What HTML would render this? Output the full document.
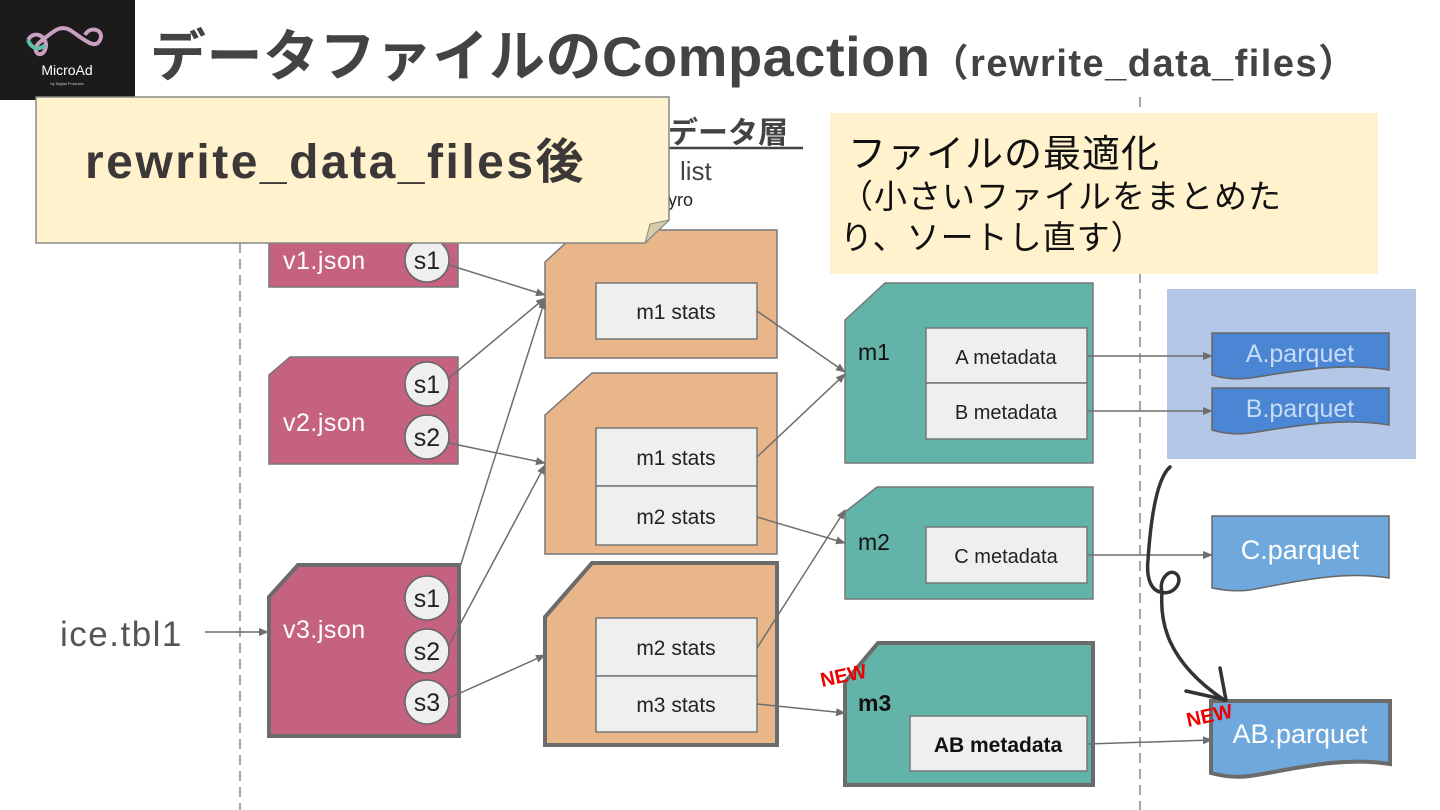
<!DOCTYPE html>
<html><head><meta charset="utf-8"><style>
html,body{margin:0;padding:0;background:#fff;}
svg{display:block;}
text{font-family:"Liberation Sans","Noto Sans CJK JP",sans-serif;}
</style></head><body>
<svg width="1440" height="810" viewBox="0 0 1440 810" xmlns="http://www.w3.org/2000/svg">
<defs>
<marker id="ah" markerWidth="10" markerHeight="10" refX="9" refY="5" orient="auto" markerUnits="userSpaceOnUse">
<path d="M0,1 L10,5 L0,9 Z" fill="#6e6e6e"/></marker>
</defs>
<!-- logo -->
<rect x="0" y="0" width="135" height="100" fill="#1c1a1a"/>
<path d="M28,40 C35,28 50,38 45,50 C40,60 30,50 40,42 C55,30 60,25 70,30 C85,40 95,50 100,40 C105,30 90,25 85,35" fill="none" stroke="#c9a0c0" stroke-width="4"/>
<path d="M28,40 C32,50 40,50 45,45" fill="none" stroke="#5fbfa8" stroke-width="4"/>
<text x="67" y="75" font-size="14" fill="#fff" text-anchor="middle">MicroAd</text>
<text x="67" y="85" font-size="4" fill="#ccc" text-anchor="middle">by Digital Products</text>
<!-- title -->
<text x="150" y="76" font-size="56" font-weight="bold" fill="#434343" letter-spacing="0.5">データファイルのCompaction<tspan font-size="38" letter-spacing="1.5">（rewrite_data_files）</tspan></text>
<!-- dashed lines -->
<line x1="240" y1="243" x2="240" y2="810" stroke="#888" stroke-width="1.5" stroke-dasharray="10,6"/>
<line x1="1140" y1="97" x2="1140" y2="810" stroke="#888" stroke-width="1.5" stroke-dasharray="10,6"/>
<!-- hidden layer labels -->
<text x="668" y="143" font-size="30" font-weight="bold" fill="#434343">データ層</text>
<line x1="668" y1="148" x2="803" y2="148" stroke="#434343" stroke-width="2.5"/>
<text x="680" y="180" font-size="26" fill="#434343">list</text>
<text x="668" y="206" font-size="18" fill="#222">yro</text>
<!-- v1 -->
<rect x="269" y="227" width="189" height="60" fill="#c5627f" stroke="#777" stroke-width="1.5"/>
<text x="283" y="269" font-size="25" fill="#fff" letter-spacing="0.5">v1.json</text>
<circle cx="427" cy="260" r="22" fill="#efefef" stroke="#666" stroke-width="1.5"/>
<text x="427" y="269" font-size="25" fill="#222" text-anchor="middle">s1</text>
<!-- v2 -->
<path d="M269,375 L290,357 L458,357 L458,464 L269,464 Z" fill="#c5627f" stroke="#777" stroke-width="1.5"/>
<text x="283" y="431" font-size="25" fill="#fff" letter-spacing="0.5">v2.json</text>
<circle cx="427" cy="384" r="22" fill="#efefef" stroke="#666" stroke-width="1.5"/>
<text x="427" y="393" font-size="25" fill="#222" text-anchor="middle">s1</text>
<circle cx="427" cy="437" r="22" fill="#efefef" stroke="#666" stroke-width="1.5"/>
<text x="427" y="446" font-size="25" fill="#222" text-anchor="middle">s2</text>
<!-- v3 -->
<path d="M269,597 L298,565 L459,565 L459,736 L269,736 Z" fill="#c5627f" stroke="#6b6b6b" stroke-width="4"/>
<text x="283" y="638" font-size="25" fill="#fff" letter-spacing="0.5">v3.json</text>
<circle cx="427" cy="598" r="22" fill="#efefef" stroke="#666" stroke-width="1.5"/>
<text x="427" y="607" font-size="25" fill="#222" text-anchor="middle">s1</text>
<circle cx="427" cy="651" r="22" fill="#efefef" stroke="#666" stroke-width="1.5"/>
<text x="427" y="660" font-size="25" fill="#222" text-anchor="middle">s2</text>
<circle cx="427" cy="702" r="22" fill="#efefef" stroke="#666" stroke-width="1.5"/>
<text x="427" y="711" font-size="25" fill="#222" text-anchor="middle">s3</text>
<text x="60" y="646" font-size="35" fill="#555" letter-spacing="1.5">ice.tbl1</text>
<line x1="205" y1="632" x2="268" y2="632" stroke="#6e6e6e" stroke-width="1.5" marker-end="url(#ah)"/>
<!-- manifest lists -->
<path d="M545,262 L580,230 L777,230 L777,358 L545,358 Z" fill="#e9b68a" stroke="#777" stroke-width="1.5"/>
<rect x="596" y="283" width="161" height="56" fill="#efefef" stroke="#777" stroke-width="1.5"/>
<text x="676" y="319" font-size="21" fill="#222" text-anchor="middle">m1 stats</text>
<path d="M545,415 L592,373 L777,373 L777,554 L545,554 Z" fill="#e9b68a" stroke="#777" stroke-width="1.5"/>
<rect x="596" y="428" width="161" height="58" fill="#efefef" stroke="#777" stroke-width="1.5"/>
<text x="676" y="465" font-size="21" fill="#222" text-anchor="middle">m1 stats</text>
<rect x="596" y="486" width="161" height="59" fill="#efefef" stroke="#777" stroke-width="1.5"/>
<text x="676" y="524" font-size="21" fill="#222" text-anchor="middle">m2 stats</text>
<path d="M545,617 L592,563 L777,563 L777,745 L545,745 Z" fill="#e9b68a" stroke="#6b6b6b" stroke-width="4"/>
<rect x="596" y="618" width="161" height="58" fill="#efefef" stroke="#777" stroke-width="1.5"/>
<text x="676" y="655" font-size="21" fill="#222" text-anchor="middle">m2 stats</text>
<rect x="596" y="676" width="161" height="56" fill="#efefef" stroke="#777" stroke-width="1.5"/>
<text x="676" y="712" font-size="21" fill="#222" text-anchor="middle">m3 stats</text>
<!-- manifests -->
<path d="M845,320 L885,283 L1093,283 L1093,463 L845,463 Z" fill="#62b3a8" stroke="#777" stroke-width="1.5"/>
<text x="858" y="360" font-size="23" fill="#111">m1</text>
<rect x="926" y="328" width="161" height="55" fill="#efefef" stroke="#777" stroke-width="1.5"/>
<text x="1006" y="364" font-size="20" fill="#222" text-anchor="middle">A metadata</text>
<rect x="926" y="383" width="161" height="56" fill="#efefef" stroke="#777" stroke-width="1.5"/>
<text x="1006" y="419" font-size="20" fill="#222" text-anchor="middle">B metadata</text>
<path d="M845,512 L877,487 L1093,487 L1093,599 L845,599 Z" fill="#62b3a8" stroke="#777" stroke-width="1.5"/>
<text x="858" y="550" font-size="23" fill="#111">m2</text>
<rect x="926" y="527" width="161" height="56" fill="#efefef" stroke="#777" stroke-width="1.5"/>
<text x="1006" y="563" font-size="20" fill="#222" text-anchor="middle">C metadata</text>
<path d="M845,682 L878,643 L1093,643 L1093,785 L845,785 Z" fill="#62b3a8" stroke="#6b6b6b" stroke-width="4"/>
<text x="858" y="711" font-size="23" font-weight="bold" fill="#111">m3</text>
<rect x="910" y="716" width="177" height="55" fill="#efefef" stroke="#777" stroke-width="1.5"/>
<text x="998" y="752" font-size="21" font-weight="bold" fill="#111" text-anchor="middle">AB metadata</text>
<!-- data files -->
<rect x="1167" y="289" width="249" height="170" fill="#b4c7e7"/>
<path d="M1212,333 L1389,333 L1389,370 C1340,362 1290,372 1250,378 C1235,380 1222,378 1212,375 Z" fill="#4a86d4" stroke="#666" stroke-width="1.5"/>
<text x="1300" y="362" font-size="25" fill="#c9dcf5" text-anchor="middle">A.parquet</text>
<path d="M1212,388 L1389,388 L1389,425 C1340,417 1290,427 1250,433 C1235,435 1222,433 1212,430 Z" fill="#4a86d4" stroke="#666" stroke-width="1.5"/>
<text x="1300" y="417" font-size="25" fill="#c9dcf5" text-anchor="middle">B.parquet</text>
<path d="M1212,516 L1389,516 L1389,578 C1340,570 1290,583 1250,590 C1235,592 1222,590 1212,588 Z" fill="#6fa8dc" stroke="#666" stroke-width="1.5"/>
<text x="1300" y="559" font-size="27" fill="#fff" text-anchor="middle">C.parquet</text>
<path d="M1211,701 L1390,701 L1390,764 C1340,756 1290,770 1250,776 C1235,778 1222,776 1211,773 Z" fill="#6fa8dc" stroke="#6b6b6b" stroke-width="4"/>
<text x="1300" y="743" font-size="27" fill="#fff" text-anchor="middle">AB.parquet</text>
<!-- NEW labels -->
<text x="822" y="687" font-size="20" font-weight="bold" fill="#e00" transform="rotate(-12 822 687)">NEW</text>
<text x="1188" y="727" font-size="20" font-weight="bold" fill="#e00" transform="rotate(-12 1188 727)">NEW</text>
<!-- connectors -->
<g stroke="#6e6e6e" stroke-width="1.5" fill="none" marker-end="url(#ah)">
<line x1="449" y1="265" x2="545" y2="295"/>
<line x1="449" y1="378" x2="545" y2="298"/>
<line x1="449" y1="443" x2="545" y2="463"/>
<line x1="460" y1="567" x2="545" y2="300"/>
<line x1="449" y1="645" x2="545" y2="465"/>
<line x1="449" y1="698" x2="545" y2="655"/>
<line x1="757" y1="311" x2="845" y2="372"/>
<line x1="757" y1="457" x2="845" y2="374"/>
<line x1="757" y1="517" x2="845" y2="543"/>
<line x1="757" y1="648" x2="845" y2="510"/>
<line x1="757" y1="704" x2="845" y2="713"/>
<line x1="1087" y1="356" x2="1212" y2="356"/>
<line x1="1087" y1="411" x2="1212" y2="411"/>
<line x1="1087" y1="555" x2="1212" y2="555"/>
<line x1="1087" y1="744" x2="1212" y2="740"/>
</g>
<!-- hand-drawn curve -->
<path d="M1170,467 C1155,480 1150,530 1148,560 C1146,580 1152,590 1160,592 C1172,596 1182,584 1178,576 C1172,566 1158,578 1162,592 C1160,620 1165,660 1224,700" fill="none" stroke="#333" stroke-width="3.5" stroke-linecap="round"/>
<path d="M1186,691 L1226,700 M1220,668 L1226,700" fill="none" stroke="#333" stroke-width="3.5" stroke-linecap="round"/>
<!-- right yellow box -->
<rect x="830" y="113" width="548" height="161" fill="#fff2cc"/>
<text x="848" y="167" font-size="38" fill="#111" letter-spacing="1">ファイルの最適化</text>
<text x="840" y="208" font-size="33" fill="#111" letter-spacing="1">（小さいファイルをまとめた</text>
<text x="840" y="249" font-size="33" fill="#111" letter-spacing="1">り、ソートし直す）</text>
<!-- callout -->
<path d="M36,97 L669,97 L669,220 L645,243 L36,243 Z" fill="#fff2cc" stroke="#888" stroke-width="1.5"/>
<path d="M669,220 L650,224 L645,243 Z" fill="#d6cba8" stroke="#888" stroke-width="1"/>
<text x="85" y="178" font-size="48" font-weight="bold" fill="#3d3838" letter-spacing="2.5">rewrite_data_files後</text>
</svg>
</body></html>
